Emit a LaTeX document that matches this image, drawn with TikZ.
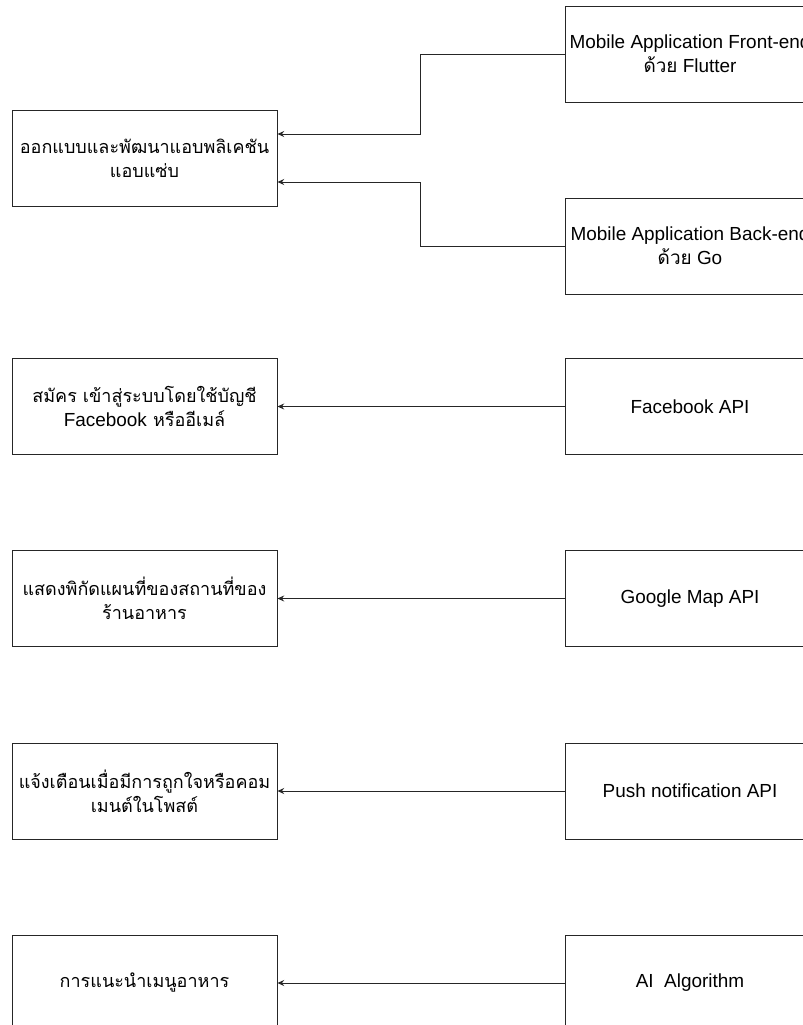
\documentclass[tikz,border=0pt]{standalone}
\usepackage{fontspec}
\setmainfont{Liberation Sans}
\newfontfamily\thaifont[Script=Thai]{Loma}
\usetikzlibrary{arrows.meta}

\begin{document}
\begin{tikzpicture}[x=0.75pt,y=-0.75pt,
		box/.style={draw=black!85,line width=0.75pt,minimum width=198.75pt,minimum height=72pt,align=center,font=\fontsize{14.2}{18}\selectfont},
		tbox/.style={box,font=\fontsize{13.5}{18}\selectfont\thaifont},
		rbox/.style={box,minimum width=187.5pt},
		arr/.style={draw=black!85,line width=0.75pt,-{Stealth[length=5pt,width=4.5pt]}}]
		\useasboundingbox (0,0) rectangle (803,1025);
		%Left column
		\node[tbox] (app) at (144.5,158) {ออกแบบและพัฒนาแอบพลิเคชัน\\แอบแซ่บ};
		\node[tbox] (signup) at (144.5,406.5) {สมัคร เข้าสู่ระบบโดยใช้บัญชี\\{\fontsize{14.2}{18}\selectfont\rmfamily Facebook} หรืออีเมล์};
		\node[tbox] (map) at (144.5,598.5) {แสดงพิกัดแผนที่ของสถานที่ของ\\ร้านอาหาร};
		\node[tbox] (notify) at (144.5,791) {แจ้งเตือนเมื่อมีการถูกใจหรือคอม\\เมนต์ในโพสต์};
		\node[tbox] (menu) at (144.5,983) {การแนะนำเมนูอาหาร};
		%Right column
		\node[rbox] (front) at (690,54) {Mobile Application Front-end\\{\thaifont ด้วย} Flutter};
		\node[rbox] (back) at (690,246) {Mobile Application Back-end\\{\thaifont ด้วย} Go};
		\node[rbox] (fbapi) at (690,406.5) {Facebook API};
		\node[rbox] (gmap) at (690,598.5) {Google Map API};
		\node[rbox] (push) at (690,791) {Push notification API};
		\node[rbox] (ai) at (690,983) {AI\ \ Algorithm};
		%Arrows
		\draw[arr] (front.west) -- ++(-144,0) |- ([yshift=18pt]app.east);
		\draw[arr] (back.west) -- ++(-144,0) |- ([yshift=-18pt]app.east);
		\draw[arr] (fbapi.west) -- (signup.east);
		\draw[arr] (gmap.west) -- (map.east);
		\draw[arr] (push.west) -- (notify.east);
		\draw[arr] (ai.west) -- (menu.east);
\end{tikzpicture}
\end{document}
